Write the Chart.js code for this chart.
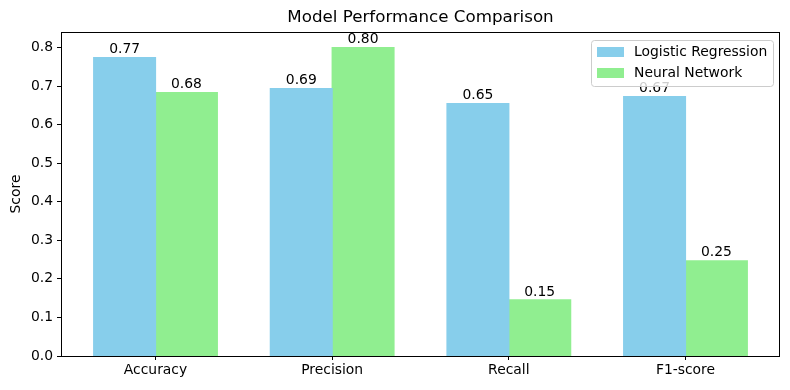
<!DOCTYPE html>
<html>
<head>
<meta charset="utf-8">
<script src="https://cdn.jsdelivr.net/npm/chart.js@4/dist/chart.umd.min.js"></script>
<style>
  html, body { margin: 0; padding: 0; background: #fff; }
  #wrap { width: 790px; height: 390px; }
</style>
</head>
<body>
<div id="wrap"><canvas id="perf-chart" width="790" height="390"></canvas></div>
<script>
const metrics = ["Accuracy", "Precision", "Recall", "F1-score"];
const logisticScores = [0.7735, 0.6935, 0.6545, 0.6727];
const neuralScores = [0.683, 0.7995, 0.1455, 0.2468];
const yTicks = [0, 0.1, 0.2, 0.3, 0.4, 0.5, 0.6, 0.7, 0.8];

const FONT = "'DejaVu Sans', sans-serif";

const toPoints = arr => arr.map((v, i) => ({ x: i, y: v }));

const frameAndText = {
  id: 'frameAndText',
  afterDatasetsDraw(chart) {
    const { ctx, chartArea: a } = chart;
    ctx.save();
    // value labels above bars
    ctx.fillStyle = '#000';
    ctx.font = `13.9px ${FONT}`;
    ctx.textAlign = 'center';
    ctx.textBaseline = 'bottom';
    chart.data.datasets.forEach((ds, di) => {
      chart.getDatasetMeta(di).data.forEach((bar, i) => {
        ctx.fillText(ds.data[i].y.toFixed(2), bar.x, bar.y - 1);
      });
    });
    // spines
    ctx.strokeStyle = '#000';
    ctx.lineWidth = 1;
    ctx.strokeRect(Math.round(a.left) + 0.5, Math.round(a.top) + 0.5,
      Math.round(a.right - a.left) - 1, Math.round(a.bottom - a.top));
    // title
    ctx.font = `16.7px ${FONT}`;
    ctx.textBaseline = 'middle';
    ctx.fillText('Model Performance Comparison', (a.left + a.right) / 2, 18);
    // y title
    ctx.save();
    ctx.translate(16, (a.top + a.bottom) / 2);
    ctx.rotate(-Math.PI / 2);
    ctx.font = `13.9px ${FONT}`;
    ctx.fillText('Score', 0, 0);
    ctx.restore();
    // legend
    const lx = a.right - 189, ly = a.top + 8, lw = 182, lh = 46;
    ctx.fillStyle = 'rgba(255,255,255,0.8)';
    ctx.strokeStyle = '#cccccc';
    ctx.beginPath();
    ctx.roundRect(lx + 0.5, ly + 0.5, lw, lh, 3);
    ctx.fill();
    ctx.stroke();
    ctx.textAlign = 'left';
    ctx.font = `13.9px ${FONT}`;
    chart.data.datasets.forEach((ds, di) => {
      const cy = ly + 12 + di * 21;
      ctx.fillStyle = ds.backgroundColor;
      ctx.fillRect(lx + 6, cy - 5, 27, 10);
      ctx.fillStyle = '#000';
      ctx.fillText(ds.label, lx + 43, cy);
    });
    ctx.restore();
  }
};

new Chart(document.getElementById('perf-chart'), {
  type: 'bar',
  data: {
    datasets: [
      { label: 'Logistic Regression', data: toPoints(logisticScores), backgroundColor: '#87CEEB' },
      { label: 'Neural Network', data: toPoints(neuralScores), backgroundColor: '#90EE90' }
    ]
  },
  options: {
    responsive: false,
    animation: false,
    layout: { padding: { top: 32, right: 10, bottom: 0, left: 0 } },
    datasets: { bar: { categoryPercentage: 0.7, barPercentage: 1.0, borderWidth: 0, inflateAmount: 0.6 } },
    plugins: { legend: { display: false }, title: { display: false }, tooltip: { enabled: false } },
    scales: {
      x: {
        type: 'linear',
        min: -0.535,
        max: 3.535,
        offset: false,
        afterBuildTicks: s => { s.ticks = metrics.map((m, i) => ({ value: i })); },
        afterFit: s => { s.height = 34; },
        ticks: {
          callback: (v) => metrics[v],
          color: '#000',
          font: { family: FONT, size: 13.9 },
          padding: 2,
          maxRotation: 0,
          autoSkip: false
        },
        grid: { offset: false, drawOnChartArea: false, drawTicks: true, tickLength: 4, color: '#000' },
        border: { display: false }
      },
      y: {
        min: 0,
        max: 0.84,
        afterBuildTicks: s => { s.ticks = yTicks.map(v => ({ value: v })); },
        afterFit: s => { s.width = 61; },
        ticks: {
          callback: v => v.toFixed(1),
          color: '#000',
          font: { family: FONT, size: 13.9 },
          padding: 4
        },
        grid: { drawOnChartArea: false, drawTicks: true, tickLength: 4, color: '#000' },
        border: { display: false }
      }
    }
  },
  plugins: [frameAndText]
});
</script>
</body>
</html>
